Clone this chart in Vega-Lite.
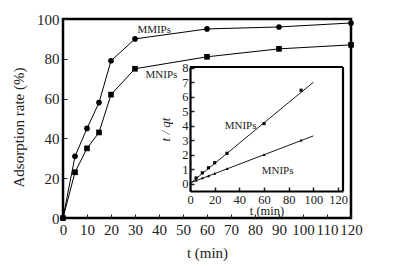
{
  "$schema": "https://vega.github.io/schema/vega-lite/v6.json",
  "width": 288,
  "height": 199,
  "autosize": {"type": "none"},
  "padding": {"left": 63, "top": 19, "right": 48, "bottom": 49},
  "background": "white",
  "config": {
    "view": {"stroke": "black", "strokeWidth": 2.5},
    "font": "Liberation Serif",
    "text": {"font": "Liberation Serif"},
    "axis": {"labelFont": "Liberation Serif", "titleFont": "Liberation Serif", "labelColor": "#222", "titleColor": "#222", "titleFontWeight": "normal", "labelFlush": false, "labelOverlap": false, "grid": false}
  },
  "datasets": {
    "main": [
      {"t": 0, "rate": 0, "series": "MMIPs"},
      {"t": 5, "rate": 31, "series": "MMIPs"},
      {"t": 10, "rate": 45, "series": "MMIPs"},
      {"t": 15, "rate": 58, "series": "MMIPs"},
      {"t": 20, "rate": 79, "series": "MMIPs"},
      {"t": 30, "rate": 90, "series": "MMIPs"},
      {"t": 60, "rate": 95, "series": "MMIPs"},
      {"t": 90, "rate": 96, "series": "MMIPs"},
      {"t": 120, "rate": 98, "series": "MMIPs"},
      {"t": 0, "rate": 0, "series": "MNIPs"},
      {"t": 5, "rate": 23, "series": "MNIPs"},
      {"t": 10, "rate": 35, "series": "MNIPs"},
      {"t": 15, "rate": 43, "series": "MNIPs"},
      {"t": 20, "rate": 62, "series": "MNIPs"},
      {"t": 30, "rate": 75, "series": "MNIPs"},
      {"t": 60, "rate": 81, "series": "MNIPs"},
      {"t": 90, "rate": 85, "series": "MNIPs"},
      {"t": 120, "rate": 87, "series": "MNIPs"}
    ],
    "mainLabels": [
      {"t": 38, "rate": 94.5, "label": "MMIPs"},
      {"t": 41, "rate": 72, "label": "MNIPs"}
    ],
    "inset": [
      {"t": 5, "q": 0.4, "series": "upper"},
      {"t": 10, "q": 0.75, "series": "upper"},
      {"t": 15, "q": 1.1, "series": "upper"},
      {"t": 20, "q": 1.45, "series": "upper"},
      {"t": 30, "q": 2.1, "series": "upper"},
      {"t": 60, "q": 4.15, "series": "upper"},
      {"t": 90, "q": 6.45, "series": "upper"},
      {"t": 5, "q": 0.25, "series": "lower"},
      {"t": 10, "q": 0.4, "series": "lower"},
      {"t": 15, "q": 0.55, "series": "lower"},
      {"t": 20, "q": 0.72, "series": "lower"},
      {"t": 30, "q": 1.05, "series": "lower"},
      {"t": 60, "q": 2.0, "series": "lower"},
      {"t": 90, "q": 3.0, "series": "lower"}
    ],
    "fit": [
      {"t": 0, "q": 0.0, "series": "upper"},
      {"t": 100, "q": 7.0, "series": "upper"},
      {"t": 0, "q": 0.05, "series": "lower"},
      {"t": 100, "q": 3.3, "series": "lower"}
    ],
    "insetLabels": [
      {"t": 41, "q": 4.0, "label": "MNIPs"},
      {"t": 71, "q": 0.85, "label": "MNIPs"}
    ]
  },
  "layer": [
    {
      "encoding": {
        "x": {"field": "t", "type": "quantitative",
          "scale": {"domain": [0, 120], "nice": false, "zero": false},
          "axis": {"orient": "bottom", "values": [0,10,20,30,40,50,60,70,80,90,100,110,120], "tickSize": -4, "tickColor": "#222", "labelPadding": 8, "labelFont": "Liberation Serif", "labelFontSize": 15, "domain": false,
            "title": "t (min)", "titleFont": "Liberation Serif", "titleFontSize": 15, "titleY": 34, "titleBaseline": "middle"}},
        "y": {"field": "rate", "type": "quantitative",
          "scale": {"domain": [0, 100], "nice": false, "zero": false},
          "axis": {"orient": "left", "values": [0,20,40,60,80,100], "tickSize": -4, "tickColor": "#222", "labelPadding": 8, "labelFont": "Liberation Serif", "labelFontSize": 15, "domain": false,
            "title": "Adsorption  rate (%)", "titleFont": "Liberation Serif", "titleFontSize": 15, "titleX": -45, "titleY": 108, "titleBaseline": "middle", "titleAngle": 270}}
      },
      "layer": [
        {"data": {"name": "main"}, "mark": {"type": "line", "color": "black", "strokeWidth": 1}, "encoding": {"detail": {"field": "series"}}},
        {"data": {"name": "main"}, "mark": {"type": "point", "filled": true, "color": "black", "opacity": 1, "size": 32},
          "encoding": {"shape": {"field": "series", "type": "nominal", "scale": {"domain": ["MMIPs", "MNIPs"], "range": ["circle", "square"]}, "legend": null}}},
        {"data": {"name": "mainLabels"}, "mark": {"type": "text", "font": "Liberation Serif", "fontSize": 11, "color": "#222", "align": "center", "baseline": "middle"},
          "encoding": {"text": {"field": "label"}}}
      ]
    },
    {
      "encoding": {
        "x": {"field": "t", "type": "quantitative",
          "scale": {"domain": [0, 124], "range": [127, 280], "nice": false, "zero": false},
          "axis": {"orient": "bottom", "offset": -27, "values": [0,20,40,60,80,100,120], "tickSize": -4, "tickColor": "#222", "tickWidth": 1.5, "labelPadding": 6, "labelFont": "Liberation Serif", "labelFontSize": 12.5, "domain": true, "domainColor": "black", "domainWidth": 2.2,
            "title": "t (min)", "titleFont": "Liberation Serif", "titleFontSize": 12.5, "titleY": 19, "titleBaseline": "middle"}},
        "y": {"field": "q", "type": "quantitative",
          "scale": {"domain": [-0.5, 8.05], "range": [172, 48], "nice": false, "zero": false},
          "axis": {"orient": "left", "offset": -127, "values": [0,1,2,3,4,5,6,7,8], "tickSize": -4, "tickColor": "#222", "tickWidth": 1.5, "labelPadding": 6, "labelFont": "Liberation Serif", "labelFontSize": 12.5, "domain": true, "domainColor": "black", "domainWidth": 2.2,
            "title": "t / qt", "titleFont": "Liberation Serif", "titleFontStyle": "italic", "titleFontSize": 13, "titleX": -25, "titleBaseline": "middle", "titleAngle": 270}}
      },
      "layer": [
        {"data": {"name": "fit"}, "mark": {"type": "line", "color": "black", "strokeWidth": 0.9}, "encoding": {"detail": {"field": "series"}}},
        {"data": {"name": "fit"}, "transform": [{"filter": "datum.t == 100 && datum.series == 'upper'"}],
          "mark": {"type": "rule", "color": "black", "strokeWidth": 2.2},
          "encoding": {"x": {"datum": 0}, "x2": {"datum": 124}, "y": {"datum": 8.05}}},
        {"data": {"name": "fit"}, "transform": [{"filter": "datum.t == 100 && datum.series == 'upper'"}],
          "mark": {"type": "rule", "color": "black", "strokeWidth": 2.2},
          "encoding": {"x": {"datum": 124}, "y": {"datum": -0.5}, "y2": {"datum": 8.05}}},
        {"data": {"name": "inset"}, "mark": {"type": "point", "filled": true, "color": "black", "opacity": 1, "size": 10},
          "encoding": {"shape": {"field": "series", "type": "nominal", "scale": {"domain": ["upper", "lower"], "range": ["square", "triangle-up"]}, "legend": null}}},
        {"data": {"name": "insetLabels"}, "mark": {"type": "text", "font": "Liberation Serif", "fontSize": 11, "color": "#222", "align": "center", "baseline": "middle"},
          "encoding": {"text": {"field": "label"}}}
      ]
    }
  ],
  "resolve": {"scale": {"x": "independent", "y": "independent", "shape": "independent"}, "axis": {"x": "independent", "y": "independent"}}
}
